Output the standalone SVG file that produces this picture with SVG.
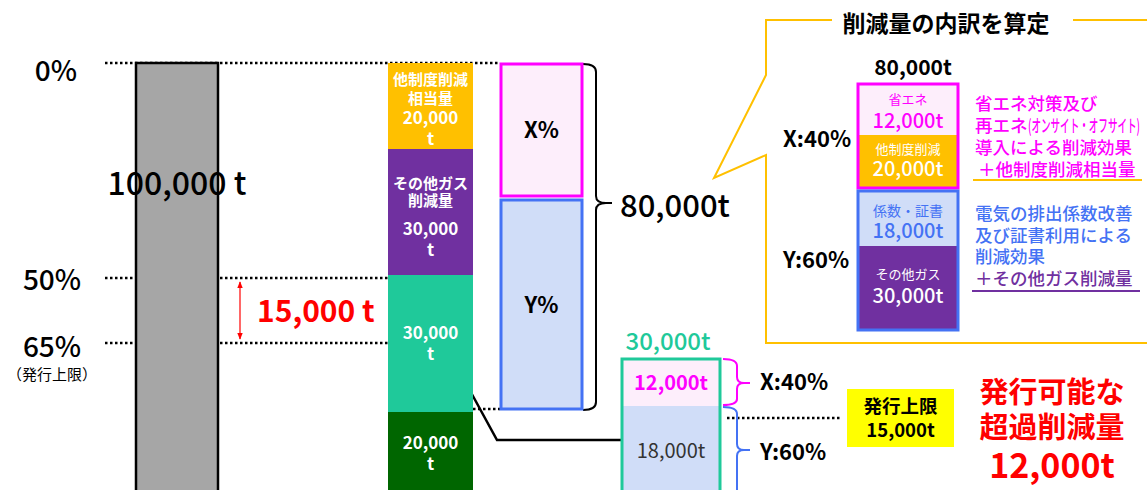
<svg xmlns="http://www.w3.org/2000/svg" width="1147" height="490" viewBox="0 0 1147 490">
<defs>
<style>
text{font-family:"Noto Sans CJK JP","Noto Sans",sans-serif;}
.c{text-anchor:middle;}
.b{font-weight:bold;}
.w{fill:#ffffff;font-weight:bold;}
.dot{stroke:#000;stroke-width:2.5;stroke-dasharray:2.5 2.5;fill:none;}
.mag{fill:#ff00ff;}
.blu{fill:#4472f4;}
</style>
<marker id="ah" viewBox="0 0 10 10" refX="9" refY="5" markerWidth="6" markerHeight="6" orient="auto-start-reverse"><path d="M0,1 L10,5 L0,9 z" fill="#ff0000"/></marker>
</defs>
<rect width="1147" height="490" fill="#ffffff"/>

<g id="scale">
<text x="56" y="81" class="c" font-size="28" font-weight="500">0%</text>
<text x="52" y="290" class="c" font-size="28" font-weight="500">50%</text>
<text x="52" y="357" class="c" font-size="28" font-weight="500">65%</text>
<text x="52" y="380" class="c" font-size="15">（発行上限）</text>
</g>

<g id="connectors">
<line x1="105" y1="63" x2="500" y2="63" class="dot"/>
<line x1="105" y1="278" x2="388" y2="278" class="dot"/>
<line x1="105" y1="343" x2="388" y2="343" class="dot"/>
<line x1="473" y1="409" x2="500" y2="409" class="dot"/>
<line x1="727" y1="418" x2="842" y2="418" class="dot"/>
<line x1="240" y1="282" x2="240" y2="339" stroke="#ff0000" stroke-width="1.2" marker-start="url(#ah)" marker-end="url(#ah)"/>
<polyline points="468,387 497,440 621,440" fill="none" stroke="#000" stroke-width="2.5"/>
<path d="M583,64 Q596,64 596,72 L596,196 Q596,203 606,203 L612,203 M606,203 Q596,203 596,210 L596,402 Q596,410 583,410" fill="none" stroke="#000" stroke-width="2"/>
<path d="M723,359 Q737,359 737,366 L737,377 Q737,383 744,383 L750,383 M744,383 Q737,383 737,389 L737,399 Q737,405 723,405" fill="none" stroke="#ff00ff" stroke-width="2"/>
<path d="M723,407 Q737,407 737,414 L737,444 Q737,450 744,450 L750,450 M744,450 Q737,450 737,456 L737,495" fill="none" stroke="#4472f4" stroke-width="2"/>
</g>

<g id="total-bar">
<rect x="136" y="63" width="82" height="440" fill="#a6a6a6" stroke="#000" stroke-width="2.5"/>
<text x="177" y="195" class="c" font-size="32" font-weight="500">100,000 t</text>
</g>

<g id="gap-label">
<text x="257" y="322" font-size="30" class="b" fill="#ff0000">15,000 t</text>
</g>

<g id="stack">
<rect x="388" y="63" width="85" height="86" fill="#ffc000"/>
<rect x="388" y="149" width="85" height="126" fill="#7030a0"/>
<rect x="388" y="275" width="85" height="137" fill="#1fc99a"/>
<rect x="388" y="412" width="85" height="80" fill="#006600"/>
<g font-size="15" class="c w">
<text x="430.5" y="85">他制度削減</text>
<text x="430.5" y="104">相当量</text>
<text x="430.5" y="124" font-size="17">20,000</text>
<text x="430.5" y="145" font-size="17">t</text>
<text x="430.5" y="189">その他ガス</text>
<text x="430.5" y="206">削減量</text>
<text x="430.5" y="235" font-size="17">30,000</text>
<text x="430.5" y="256" font-size="17">t</text>
<text x="430.5" y="339" font-size="17">30,000</text>
<text x="430.5" y="360" font-size="17">t</text>
<text x="430.5" y="449" font-size="17">20,000</text>
<text x="430.5" y="470" font-size="17">t</text>
</g>
</g>

<g id="xy-bar">
<rect x="501" y="64" width="81" height="132" fill="#fdeefb" stroke="#ff00ff" stroke-width="3"/>
<rect x="501" y="200" width="81" height="209" fill="#d0ddf8" stroke="#4472f4" stroke-width="3"/>
<text x="541.5" y="138" class="c b" font-size="22">X%</text>
<text x="541.5" y="313" class="c b" font-size="22">Y%</text>
</g>

<g id="total-label">
<text x="620" y="217" font-size="31" font-weight="500">80,000t</text>
</g>

<g id="excess-bar">
<text x="668" y="350" class="c" font-size="24" font-weight="500" fill="#1fc99a">30,000t</text>
<rect x="622" y="359" width="98" height="47" fill="#fdeefb"/>
<rect x="622" y="406" width="98" height="90" fill="#d0ddf8"/>
<rect x="622" y="359" width="98" height="137" fill="none" stroke="#1fc99a" stroke-width="3"/>
<text x="671" y="390" class="c b mag" font-size="20">12,000t</text>
<text x="671" y="458" class="c" font-size="20" fill="#333333">18,000t</text>
<text x="760" y="390" class="b" font-size="22">X:40%</text>
<text x="760" y="460" class="b" font-size="22">Y:60%</text>
</g>

<g id="cap-box">
<rect x="847" y="389" width="107" height="58" fill="#ffff00"/>
<text x="900.5" y="413" class="c b" font-size="18.5">発行上限</text>
<text x="900.5" y="437" class="c b" font-size="18.5">15,000t</text>
</g>

<g id="result">
<text x="1052" y="403" class="c b" font-size="29" fill="#ff0000">発行可能な</text>
<text x="1052" y="438" class="c b" font-size="29" fill="#ff0000">超過削減量</text>
<text x="1052" y="478" class="c b" font-size="34" fill="#ff0000">12,000t</text>
</g>

<g id="callout">
<path d="M832,20 L766,20 L766,75 L714,178 L766,155 L766,343 L1150,343" fill="none" stroke="#ffc000" stroke-width="2"/>
<line x1="1073" y1="20" x2="1150" y2="20" stroke="#ffc000" stroke-width="2"/>
<text x="946" y="32" class="c" font-size="23" font-weight="bold">削減量の内訳を算定</text>
<text x="913" y="75" class="c" font-size="21" font-weight="bold">80,000t</text>
<text x="783" y="147" class="b" font-size="22">X:40%</text>
<text x="783" y="268" class="b" font-size="22">Y:60%</text>
</g>

<g id="breakdown">
<rect x="858" y="84" width="100" height="51" fill="#fdeefb"/>
<rect x="858" y="135" width="100" height="53" fill="#ffc000"/>
<rect x="858" y="84" width="100" height="104" fill="none" stroke="#ff00ff" stroke-width="3"/>
<rect x="858" y="191" width="100" height="55" fill="#d0ddf8"/>
<rect x="858" y="246" width="100" height="84" fill="#7030a0"/>
<rect x="858" y="191" width="100" height="139" fill="none" stroke="#4472f4" stroke-width="3"/>
<text x="908" y="104" class="c mag" font-size="13">省エネ</text>
<text x="908" y="128" class="c mag" font-size="20" font-weight="500">12,000t</text>
<text x="908" y="154" class="c" font-size="13" fill="#ffffff">他制度削減</text>
<text x="908" y="176" class="c" font-size="20" fill="#ffffff" font-weight="500">20,000t</text>
<text x="908" y="216" class="c blu" font-size="14">係数・証書</text>
<text x="908" y="238" class="c blu" font-size="20" font-weight="500">18,000t</text>
<text x="908" y="279" class="c" font-size="13" fill="#ffffff">その他ガス</text>
<text x="908" y="303" class="c" font-size="20" fill="#ffffff" font-weight="500">30,000t</text>
</g>

<g id="notes">
<text x="975" y="110" class="mag" font-size="17.5" font-weight="500">省エネ対策及び</text>
<text x="975" y="132" class="mag" font-size="17.5" font-weight="500">再エネ</text>
<text x="1028" y="132" class="mag" font-size="17.5" font-weight="500" textLength="112" lengthAdjust="spacingAndGlyphs">(オンサイト・オフサイト)</text>
<text x="975" y="154" class="mag" font-size="17.5" font-weight="500">導入による削減効果</text>
<text x="978" y="176" class="mag" font-size="17.5" font-weight="500">＋他制度削減相当量</text>
<line x1="973" y1="180" x2="1142" y2="180" stroke="#ffc000" stroke-width="2"/>
<text x="975" y="220" class="blu" font-size="17.5" font-weight="500">電気の排出係数改善</text>
<text x="975" y="242" class="blu" font-size="17.5" font-weight="500">及び証書利用による</text>
<text x="975" y="263" class="blu" font-size="17.5" font-weight="500">削減効果</text>
<text x="975" y="285" font-size="17.5" font-weight="500" fill="#7030a0">＋その他ガス削減量</text>
<line x1="972" y1="291" x2="1140" y2="291" stroke="#7030a0" stroke-width="2"/>
</g>
</svg>
